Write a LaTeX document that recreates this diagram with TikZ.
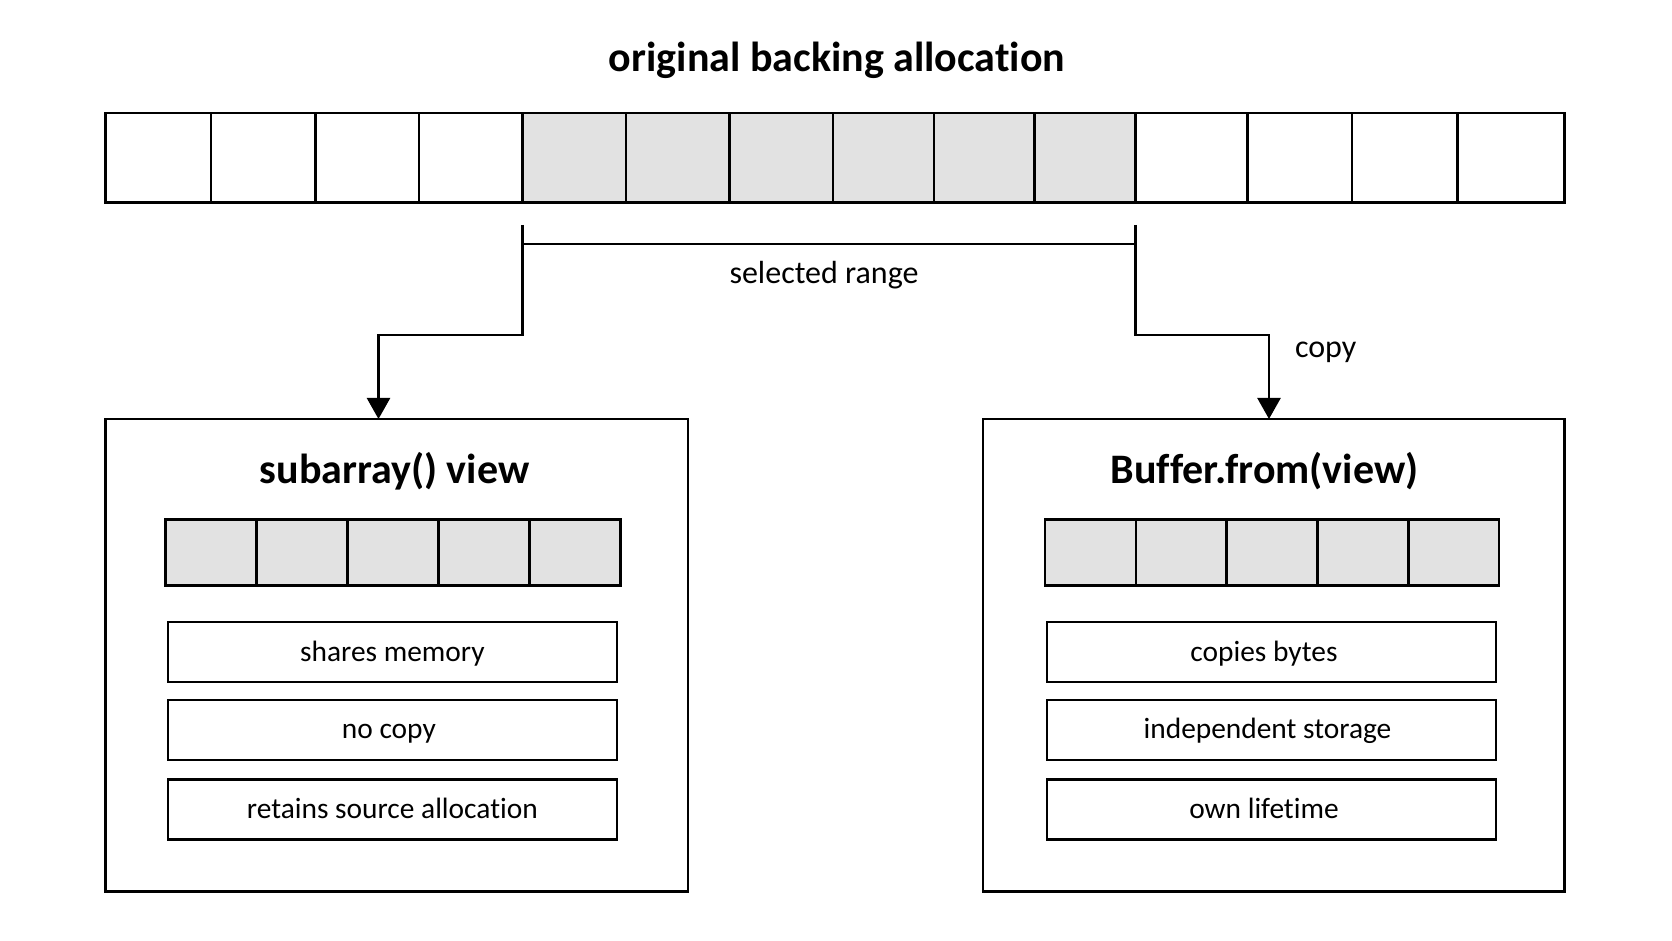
\documentclass[tikz,border=0pt]{standalone}
\usepackage{fontspec}
\setmainfont{Carlito}[Ligatures=NoCommon]
\usetikzlibrary{arrows.meta}
\definecolor{selGray}{HTML}{E2E2E2}

\begin{document}
\begin{tikzpicture}[x=0.5pt,y=-0.5pt,
  cell/.style={draw,line width=1.2pt},
  panel/.style={draw,line width=1.3pt,inner sep=0pt},
  tag/.style={draw,line width=1.2pt,inner sep=0pt,minimum width=224.5pt,minimum height=30pt,
    text height=12pt,text depth=3pt,font=\fontsize{14.7}{17}\selectfont},
  hd/.style={font=\fontsize{21}{25}\selectfont\bfseries},
  lbl/.style={font=\fontsize{16}{19}\selectfont},
  arr/.style={line width=1.2pt,-{Triangle[length=10.5pt,width=11.5pt]}}]
  \useasboundingbox (0,0) rectangle (1672,941);
  \node[hd] (title) at (837,60) {original backing allocation};
  % backing store, 14 cells, the selected six in grey
  \foreach \xa/\xb/\c in {105.6/211.1/white,211.1/315.6/white,315.6/419.1/white,419.1/522.5/white,
    522.5/625.9/selGray,625.9/729.3/selGray,729.3/832.8/selGray,832.8/934.1/selGray,934.1/1034.3/selGray,1034.3/1135.6/selGray,
    1135.6/1247.6/white,1247.6/1352.1/white,1352.1/1457.6/white,1457.6/1564.3/white}
    \draw[cell,fill=\c] (\xa,113) rectangle (\xb,202.6);
  % range bracket
  \coordinate (selL) at (522.5,225);
  \coordinate (selR) at (1135.6,225);
  \coordinate (rngL) at (522.5,244);
  \coordinate (rngR) at (1135.6,244);
  \draw[line width=1.2pt] (rngL) -- (rngR);
  \node[lbl] (rng) at (824,275) {selected range};
  % the two results
  \node[panel,minimum width=291.1pt,minimum height=236.2pt] (viewbox) at (396.7,655.2) {};
  \node[panel,minimum width=290.6pt,minimum height=236.2pt] (copybox) at (1273.7,655.2) {};
  \coordinate (vin) at (378.5,419);
  \coordinate (cin) at (1269,419);
  \draw[arr] (selL) -- ++(0,110) -| (vin);
  \draw[arr] (selR) -- ++(0,110) -| (cin);
  \node[lbl,anchor=west] (cp) at (1288,352.5) {copy};
  \node[hd] (viewhd) at (394.5,471) {subarray() view};
  \node[hd] (copyhd) at (1264.6,471) {Buffer.from(view)};
  \foreach \i in {0,...,4}{
    \draw[cell,fill=selGray] (165.3+\i*91.06,519.3) rectangle ++(91.06,66.1);
    \draw[cell,fill=selGray] (1045+\i*90.84,519.3) rectangle ++(90.84,66.1);
  }
  \node[tag] (v1) at (392.4,652) {shares memory};
  \node[tag] (v2) at (392.4,729.9) {\hspace*{-3.5pt}no copy};
  \node[tag] (v3) at (392.4,809.4) {retains source allocation};
  \node[tag] (c1) at (1271.5,652) {\hspace*{-7.5pt}copies bytes};
  \node[tag] (c2) at (1271.5,729.9) {\hspace*{-4pt}independent storage};
  \node[tag] (c3) at (1271.5,809.4) {\hspace*{-7.5pt}own lifetime};
\end{tikzpicture}
\end{document}
